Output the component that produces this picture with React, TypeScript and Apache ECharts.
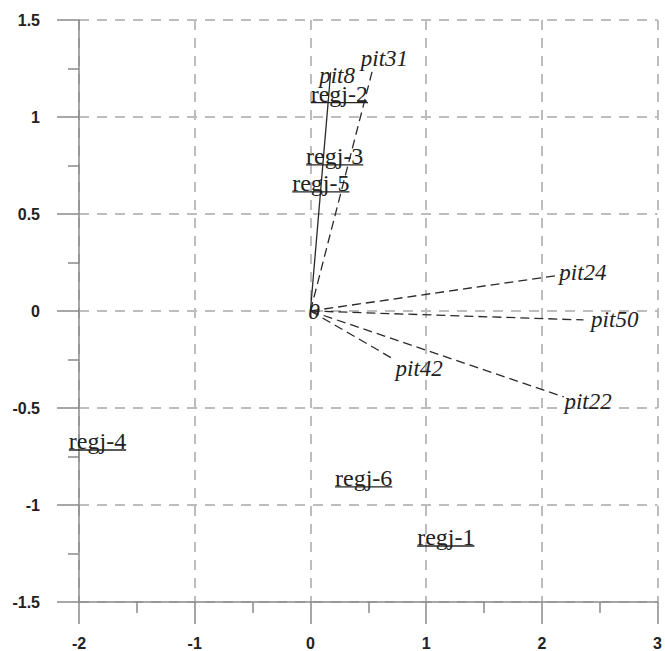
import React, { useEffect, useRef } from "react";
import * as echarts from "echarts";

// Axis ranges / ticks
const xTicks = [-2, -1, 0, 1, 2, 3];
const yTicks = [-1.5, -1, -0.5, 0, 0.5, 1, 1.5];

// Variable vectors (pit*): line end points and label anchors
const vecNames = ["pit8", "pit31", "pit24", "pit50", "pit22", "pit42"];
const vecX = [0.175, 0.54, 2.165, 2.36, 2.19, 0.71];
const vecY = [1.23, 1.25, 0.186, -0.046, -0.443, -0.245];
const vecLabelX = [0.23, 0.64, 2.355, 2.63, 2.4, 0.94];
const vecLabelY = [1.216, 1.304, 0.2, -0.046, -0.469, -0.294];
const vecSolid = [true, false, false, false, false, false];

// Site labels (regj-*)
const regjNames = ["regj-1", "regj-2", "regj-3", "regj-4", "regj-5", "regj-6"];
const regjX = [1.17, 0.25, 0.21, -1.84, 0.09, 0.46];
const regjY = [-1.165, 1.12, 0.8, -0.67, 0.66, -0.86];

// Origin label
const originLabel = "0";
const originX = 0.03;
const originY = 0.0;

const SERIF = "Liberation Serif";
const SANS = "Liberation Sans";

function measure(text: string, font: string): number {
  const c = document.createElement("canvas");
  const ctx = c.getContext("2d");
  if (!ctx) return text.length * 10;
  ctx.font = font;
  return ctx.measureText(text).width;
}

export default function App() {
  const ref = useRef<HTMLDivElement>(null);
  useEffect(() => {
    if (!ref.current) return;
    const chart = echarts.init(ref.current, null, { renderer: "svg" });
    const regjSize = 24;
    const pitSize = 23;

    const vecData = vecNames.map((n, i) => [vecX[i], vecY[i], vecLabelX[i], vecLabelY[i], i]);
    const regjData = regjNames.map((n, i) => [regjX[i], regjY[i], i]);

    const axisCommon = {
      axisLine: { onZero: false, lineStyle: { color: "#8a8a8a", width: 1.5 } },
      axisTick: { length: 22, lineStyle: { color: "#8a8a8a", width: 1.5 } },
      minorTick: { show: true, splitNumber: 2, length: 11, lineStyle: { color: "#8a8a8a", width: 1.5 } },
      splitLine: {
        show: true,
        lineStyle: { color: "#bdbdbd", width: 2, type: [10, 8] },
      },
    };

    chart.setOption({
      animation: false,
      grid: { left: 79, right: 6, top: 20, bottom: 49, containLabel: false },
      xAxis: {
        type: "value",
        min: xTicks[0],
        max: xTicks[xTicks.length - 1],
        interval: 1,
        ...axisCommon,
        axisLabel: {
          margin: 33,
          color: "#222",
          fontFamily: SANS,
          fontWeight: "bold",
          fontSize: 16,
        },
      },
      yAxis: {
        type: "value",
        min: yTicks[0],
        max: yTicks[yTicks.length - 1],
        interval: 0.5,
        ...axisCommon,
        axisLabel: {
          margin: 39,
          color: "#222",
          fontFamily: SANS,
          fontWeight: "bold",
          fontSize: 16,
        },
      },
      series: [
        {
          type: "custom",
          data: vecData,
          encode: { x: [0, 2], y: [1, 3] },
          renderItem: (params: any, api: any) => {
            const i = api.value(4);
            const o = api.coord([0, 0]);
            const e = api.coord([api.value(0), api.value(1)]);
            const l = api.coord([api.value(2), api.value(3)]);
            return {
              type: "group",
              children: [
                {
                  type: "line",
                  shape: { x1: o[0], y1: o[1], x2: e[0], y2: e[1] },
                  style: {
                    stroke: "#2a2a2a",
                    lineWidth: 1.3,
                    lineDash: vecSolid[i] ? null : [9, 5],
                  },
                },
                {
                  type: "text",
                  x: l[0],
                  y: l[1],
                  style: {
                    text: vecNames[i],
                    fontFamily: SERIF,
                    fontStyle: "italic",
                    fontSize: pitSize,
                    fill: "#222",
                    align: "center",
                    verticalAlign: "middle",
                  },
                },
              ],
            };
          },
        },
        {
          type: "custom",
          data: regjData,
          encode: { x: 0, y: 1 },
          renderItem: (params: any, api: any) => {
            const i = api.value(2);
            const p = api.coord([api.value(0), api.value(1)]);
            const w = measure(regjNames[i], `${regjSize}px "${SERIF}"`);
            return {
              type: "group",
              children: [
                {
                  type: "text",
                  x: p[0],
                  y: p[1],
                  style: {
                    text: regjNames[i],
                    fontFamily: SERIF,
                    fontSize: regjSize,
                    fill: "#222",
                    align: "center",
                    verticalAlign: "middle",
                  },
                },
                {
                  type: "line",
                  shape: { x1: p[0] - w / 2, y1: p[1] + 9, x2: p[0] + w / 2, y2: p[1] + 9 },
                  style: { stroke: "#222", lineWidth: 1.3 },
                },
              ],
            };
          },
        },
        {
          type: "custom",
          data: [[originX, originY]],
          encode: { x: 0, y: 1 },
          renderItem: (params: any, api: any) => {
            const p = api.coord([api.value(0), api.value(1)]);
            return {
              type: "text",
              x: p[0],
              y: p[1],
              style: {
                text: originLabel,
                fontFamily: SERIF,
                fontStyle: "italic",
                fontSize: pitSize,
                fill: "#222",
                align: "center",
                verticalAlign: "middle",
              },
            };
          },
        },
      ],
    });
    return () => chart.dispose();
  }, []);
  return (
    <div
      ref={ref}
      style={{ position: "fixed", left: 0, top: 0, width: 665, height: 651, background: "#fff" }}
    />
  );
}
